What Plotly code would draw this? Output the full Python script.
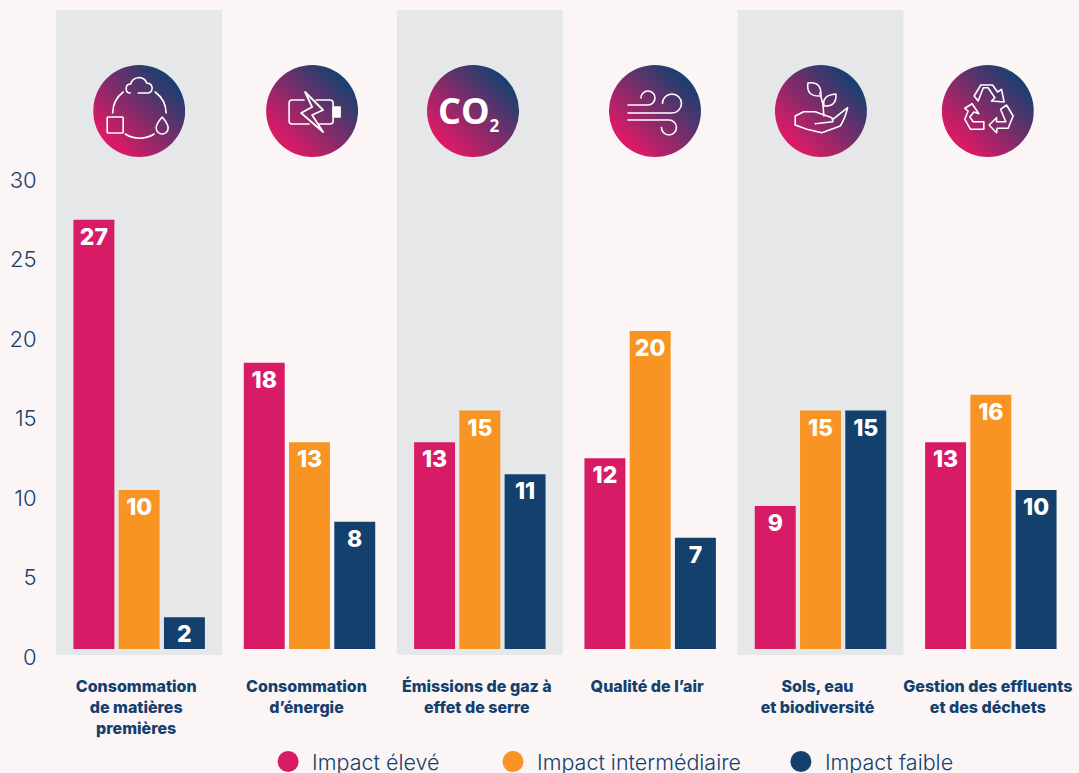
import base64
import plotly.graph_objects as go

categories = ["Consommation<br>de matières<br>premières", "Consommation<br>d’énergie",
              "Émissions de gaz à<br>effet de serre", "Qualité de l’air",
              "Sols, eau<br>et biodiversité", "Gestion des effluents<br>et des déchets"]
impact_eleve = [27, 18, 13, 12, 9, 13]
impact_intermediaire = [10, 13, 15, 20, 15, 16]
impact_faible = [2, 8, 11, 7, 15, 10]
series_names = ["Impact élevé", "Impact intermédiaire", "Impact faible"]
y_ticks = [0, 5, 10, 15, 20, 25, 30]

PINK, ORANGE, NAVY = "#D81B66", "#F79424", "#13406D"
BG, BAND = "#FBF5F5", "#E5E7E9"
W, H = 1079, 773
FONT = "Inter"

# ---- icons -------------------------------------------------------------
def svg_icon(body):
    s = ('<svg xmlns="http://www.w3.org/2000/svg" width="368" height="368" viewBox="0 0 92 92">'
         '<defs><linearGradient id="g" x1="0.13" y1="0.87" x2="0.87" y2="0.13">'
         '<stop offset="0.08" stop-color="#D81B66"/><stop offset="0.97" stop-color="#17406F"/>'
         '</linearGradient></defs><circle cx="46" cy="46" r="46" fill="url(#g)"/>'
         '<g fill="none" stroke="#fff" stroke-width="1.6" stroke-linecap="round" stroke-linejoin="round">'
         + body + '</g></svg>')
    return "data:image/svg+xml;base64," + base64.b64encode(s.encode()).decode()

ICON_RES = ('<path d="M37 28 H36 Q33 27.5 33 23.5 Q33 19 37.5 19 Q39 13 46 12.5 Q52 13 53.5 18 Q59 18.5 59 23.5 '
            'Q58.5 28 54 28 H45"/><rect x="14" y="52" width="16" height="16" rx="1"/>'
            '<path d="M69 52 Q75 59 75 63 A6 6 0 0 1 63 63 Q63 59 69 52 Z"/>'
            '<path d="M19.5 48 A27 27 0 0 1 30 27"/><path d="M62 27 A27 27 0 0 1 73 48"/>'
            '<path d="M32 69 A27 27 0 0 0 61 69"/>')
ICON_BAT = ('<path d="M38 35 H26 Q23 35 23 38 V56 Q23 59 26 59 H43"/><path d="M50 35 H64 Q67 35 67 38 V56 Q67 59 64 59 H53"/>'
            '<rect x="67" y="42" width="7" height="10" fill="#fff"/>'
            '<path d="M39 27 L57 45 L46 50 L57 67 L35 48 L46 42 Z" stroke-width="1.8"/>')
ICON_AIR = ('<path d="M19 40 H39 A7 7 0 1 0 32 33"/><path d="M19 48 H63 A9.5 9.5 0 1 0 53.5 38.5"/>'
            '<path d="M19 55 H60 A7.5 7.5 0 1 1 52.5 62.5"/>')
ICON_SOL = ('<path d="M33 18 Q47 16 46 31 Q31 32 33 18 Z"/><path d="M61 29 Q62 42 49 41 Q47 30 61 29 Z"/>'
            '<path d="M45 28 L48 39 L49 51"/>'
            '<path d="M20.3 60 V51 L28.7 46.7 H40.3 L57 52.7 L58 56.7 L40.3 58.7"/>'
            '<path d="M58 54.3 L72.7 42.7 Q70 54 65.3 61 L47 67.7 L32 64.3 L20.3 60"/>')
ICON_REC = ('<path d="M36.3 36 L32.3 31 L39 20 H50.7 L55.7 27 L59.7 24.3 L62.3 37 L49.7 36 L53 32.7 L46.3 22.7 H41.5 Z"/>'
            '<path d="M30.3 38.7 L37 48.7 L32 47 L28 52 L31.3 56.7 H42 V64.3 H28.7 L23 54.3 L26.3 46 L23 43.3 Z"/>'
            '<path d="M47.3 60 L54.7 52.7 V56.7 H64 L58.7 44.3 L64.7 40 L71.3 51 L66.3 63.3 H55.3 L54.7 67.7 Z"/>')
icons = [(139, ICON_RES), (312, ICON_BAT), (473, ""), (655, ICON_AIR), (821, ICON_SOL), (988, ICON_REC)]

# ---- figure ---------------------------------------------------------------
PL, PR, PT, PB = 53.8, 1076.2, 10, 657
y_top = (PB - PT) / 15.9

fig = go.Figure()
for name, vals, col in zip(series_names, [impact_eleve, impact_intermediaire, impact_faible], [PINK, ORANGE, NAVY]):
    fig.add_bar(x=categories, y=vals, base=[0.5] * len(vals), name=name, marker=dict(color=col, line_width=0),
                text=vals, textposition="inside", insidetextanchor="end", textangle=0, constraintext="none",
                textfont=dict(family=FONT, size=23, color="white", weight=800),
                cliponaxis=False, showlegend=False, hoverinfo="x+y+name")

legend_left = [264, 489, 777]
for i, (name, col, lx) in enumerate(zip(series_names, [PINK, ORANGE, NAVY], legend_left)):
    lid = "legend" if i == 0 else f"legend{i + 1}"
    fig.add_scatter(x=[None], y=[None], mode="markers", name=name, legend=lid, showlegend=True,
                    marker=dict(color=col, size=16, symbol="circle", line=dict(color=col, width=5)))
    fig.layout[lid] = dict(x=(lx - PL) / (PR - PL), y=(PB - 782) / (PB - PT), xref="paper", yref="paper",
                           xanchor="left", yanchor="bottom",
                           bgcolor="rgba(0,0,0,0)", itemsizing="trace", itemwidth=38, borderwidth=0,
                           font=dict(family=FONT, size=21.5, color=NAVY, weight=300), itemclick=False, itemdoubleclick=False)

for c in (0, 2, 4):
    fig.add_shape(type="rect", layer="below", xref="x", yref="y", x0=c - 0.487, x1=c + 0.487, y0=0.126, y1=y_top,
                  fillcolor=BAND, line_width=0)

for cx, body in icons:
    fig.add_layout_image(source=svg_icon(body), xref="paper", yref="paper", xanchor="center", yanchor="middle",
                         x=(cx - PL) / (PR - PL), y=(PB - 111) / (PB - PT), sizex=92 / (PR - PL), sizey=92 / (PB - PT),
                         sizing="stretch", layer="above")

fig.add_annotation(text='CO<sub><span style="font-size:17px">2</span></sub>', xref="paper", yref="paper",
                   x=(468.5 - PL) / (PR - PL), y=(PB - 112) / (PB - PT),
                   xanchor="center", yanchor="middle", showarrow=False,
                   font=dict(family="Open Sans", size=36, color="white", weight=700))

fig.update_layout(
    width=W, height=H, autosize=False, paper_bgcolor=BG, plot_bgcolor="rgba(0,0,0,0)",
    margin=dict(l=PL, r=W - PR, t=PT, b=H - PB, pad=0, autoexpand=False),
    barmode="group", bargap=0.203, bargroupgap=0.095, font=dict(family=FONT, color=NAVY),
    hovermode="closest",
    xaxis=dict(type="category", range=[-0.5, 5.5], showgrid=False, zeroline=False, showline=False,
               ticks="outside", ticklen=15, tickcolor="rgba(0,0,0,0)", ticklabelshift=-3,
               tickfont=dict(family=FONT, size=16, color=NAVY, weight=800)),
    yaxis=dict(range=[0, y_top], tickvals=y_ticks, showgrid=False, zeroline=False, showline=False,
               ticks="outside", ticklen=12, tickcolor="rgba(0,0,0,0)",
               tickfont=dict(family=FONT, size=22, color=NAVY, weight=300)),
)
fig.write_html("out.html", config=dict(displayModeBar=False),
               post_script="document.documentElement.style.background='#FBF5F5';document.body.style.margin='0';document.body.style.overflow='hidden';")
